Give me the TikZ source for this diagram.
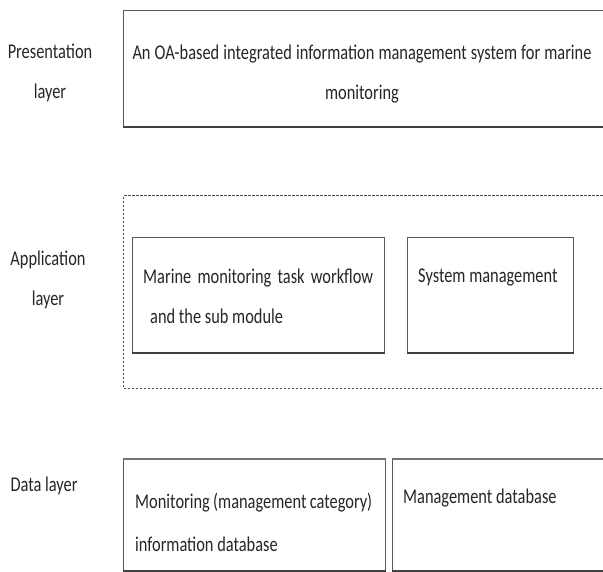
\documentclass[tikz,border=0pt]{standalone}
\usepackage{fontspec}
\setmainfont{Carlito}[FakeStretch=0.78]
\usetikzlibrary{positioning}

\newcommand*{\boxleft}{123}
\newcommand*{\boxright}{610}

\begin{document}
\begin{tikzpicture}
[
	x=1pt,
	y=-1pt,
	txt/.style={font=\fontsize{21}{40}\selectfont,text=black!85,inner sep=0pt},
	layerlabel/.style={txt,align=center},
	solidbox/.style={draw=black!65,line width=1.2pt,anchor=north west,inner sep=0pt},
	dashbox/.style={draw=black!70,line width=1.2pt,dash pattern=on 2.5pt off 1.5pt,anchor=north west,inner sep=0pt}
]
	\useasboundingbox (0,0) rectangle (603,572);

	% layer labels
	\node[layerlabel] (prl) at (50,73) {Presentation\\layer};
	\node[layerlabel] (apl) at (48,280) {Application\\layer};
	\node[layerlabel] (dal) at (44,486) {Data layer};

	% presentation layer
	\node[solidbox,minimum width=487,minimum height=116] (pres) at (\boxleft,10) {};
	\draw[black!75,line width=2.2pt] (pres.south west) -- (pres.south east);
	\node[txt,align=center] (prest) at (362,74)
		{\makebox[459pt][s]{An OA-based integrated information management system for marine}\\monitoring};

	% application layer
	\node[dashbox,minimum width=487,minimum height=193] (app) at (\boxleft,195) {};
	\node[solidbox,minimum width=252,minimum height=115] (task) at (132,237) {};
	\draw[black!75,line width=1.8pt] (task.south west) -- (task.south east);
	\node[txt,align=left,anchor=north west] (taskt) at (143,269)
		{\makebox[230pt][s]{Marine monitoring task workflow}\\\hspace{7pt}and the sub module};
	\node[solidbox,minimum width=166,minimum height=115] (sys) at (407,237) {};
	\draw[black!75,line width=1.8pt] (sys.south west) -- (sys.south east);
	\node[txt,anchor=north west] (syst) at (418,269) {System management};

	% data layer
	\node[solidbox,minimum width=262,minimum height=111] (mon) at (\boxleft,459) {};
	\draw[black!55,line width=1.8pt] (mon.north west) -- (mon.north east);
	\draw[black!75,line width=1.8pt] (mon.south west) -- (mon.south east);
	\node[txt,align=left,anchor=north west,font=\fontsize{21}{43}\selectfont] (mont) at (135,493)
		{\makebox[237pt][s]{Monitoring (management category)}\\information database};
	\node[solidbox,minimum width=218,minimum height=111] (mdb) at (392,459) {};
	\draw[black!55,line width=1.8pt] (mdb.north west) -- (mdb.north east);
	\draw[black!75,line width=1.8pt] (mdb.south west) -- (mdb.south east);
	\node[txt,anchor=north west] (mdbt) at (403,489) {Management database};

\end{tikzpicture}
\end{document}
